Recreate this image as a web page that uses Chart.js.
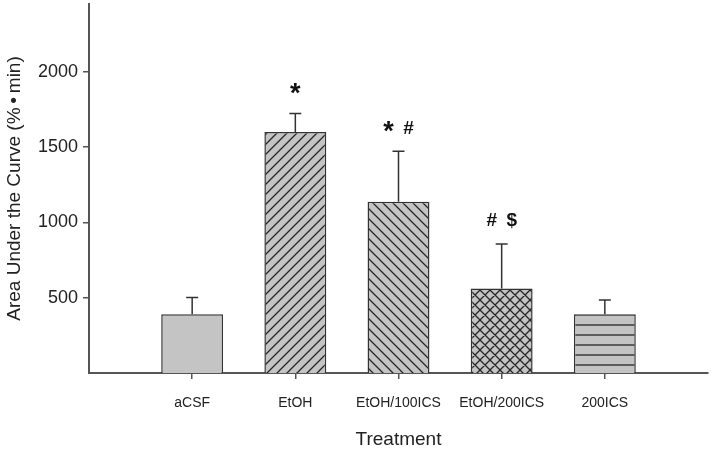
<!DOCTYPE html>
<html>
<head>
<meta charset="utf-8">
<script src="https://cdn.jsdelivr.net/npm/chart.js@4"></script>
<style>
  html, body { margin: 0; padding: 0; background: #fff; }
  #wrap { width: 714px; height: 453px; }
</style>
</head>
<body>
<div id="wrap"><canvas id="myChart"></canvas></div>
<script>
// values
const categories = ['aCSF', 'EtOH', 'EtOH/100ICS', 'EtOH/200ICS', '200ICS']
const means = [390, 1600, 1137, 561, 390]
const errors = [112, 123, 335, 296, 95]
const marks = ['', '*', '* #', '# $', '']
const yTicks = [500, 1000, 1500, 2000]

// empty slot at each end, like the original axis
const labels = [''].concat(categories).concat([''])
const values = [null].concat(means).concat([null])

const FONT = '"Liberation Sans", Arial, sans-serif'

function makePattern(kind) {
    const s = 10
    const c = document.createElement('canvas')
    c.width = s
    c.height = s
    const g = c.getContext('2d')
    g.fillStyle = '#c4c4c4'
    g.fillRect(0, 0, s, s)
    g.strokeStyle = '#262626'
    g.lineWidth = 1.3
    g.beginPath()
    if (kind === 'fwd' || kind === 'cross') {
        g.moveTo(-1, s + 1); g.lineTo(s + 1, -1)
        g.moveTo(-1, 1); g.lineTo(1, -1)
        g.moveTo(s - 1, s + 1); g.lineTo(s + 1, s - 1)
    }
    if (kind === 'back' || kind === 'cross') {
        g.moveTo(-1, -1); g.lineTo(s + 1, s + 1)
        g.moveTo(s - 1, -1); g.lineTo(s + 1, 1)
        g.moveTo(-1, s - 1); g.lineTo(1, s + 1)
    }
    if (kind === 'horiz') {
        g.moveTo(0, 5); g.lineTo(s, 5)
    }
    g.stroke()
    return g.createPattern(c, 'repeat')
}

const fills = [null, '#c4c4c4', makePattern('fwd'), makePattern('back'), makePattern('cross'), makePattern('horiz'), null]

const extras = {
    id: 'extras',
    afterDatasetsDraw(chart) {
        const ctx = chart.ctx
        const x = chart.scales.x
        const y = chart.scales.y
        ctx.save()
        for (let i = 0; i < categories.length; i++) {
            const px = x.getPixelForValue(i + 1)
            const yb = y.getPixelForValue(means[i])
            const yt = y.getPixelForValue(means[i] + errors[i])
            ctx.strokeStyle = '#333'
            ctx.lineWidth = 1.5
            ctx.beginPath()
            ctx.moveTo(px, yb)
            ctx.lineTo(px, yt)
            ctx.moveTo(px - 6, yt)
            ctx.lineTo(px + 6, yt)
            ctx.stroke()
            if (!marks[i]) continue
            const parts = marks[i].split(' ')
            const cy = yt - 27
            ctx.fillStyle = '#111'
            ctx.textAlign = 'center'
            parts.forEach((p, k) => {
                const cx = px + (k - (parts.length - 1) / 2) * 20
                if (p === '*') {
                    ctx.font = 'bold 27px ' + FONT
                    ctx.textBaseline = 'alphabetic'
                    ctx.fillText(p, cx, cy + 16)
                } else {
                    ctx.font = 'bold 19px ' + FONT
                    ctx.textBaseline = 'middle'
                    ctx.fillText(p, cx, cy + 4)
                }
            })
        }
        ctx.restore()
    }
}

const data = {
    labels,
    datasets: [{
        data: values,
        backgroundColor: fills,
        borderColor: '#333',
        borderWidth: 1.5,
        barPercentage: 0.6,
        categoryPercentage: 1
    }]
}

const config = {
    type: 'bar',
    data: data,
    plugins: [extras],
    options: {
        responsive: true,
        maintainAspectRatio: false,
        animation: false,
        layout: { padding: { top: 4, right: 6, left: 0, bottom: 0 } },
        plugins: { legend: { display: false }, tooltip: { enabled: false } },
        scales: {
            x: {
                offset: false,
                afterFit(s) {
                    s.height = 80
                    s.paddingLeft = 0
                    s.paddingRight = 0
                },
                border: { color: '#555', width: 2 },
                grid: {
                    offset: false,
                    drawOnChartArea: false,
                    tickLength: 6,
                    color: c => (c.index === 0 || c.index === labels.length - 1) ? 'rgba(0,0,0,0)' : '#555',
                    lineWidth: 1.5
                },
                ticks: {
                    color: '#222',
                    padding: 16,
                    maxRotation: 0,
                    autoSkip: false,
                    font: { family: FONT, size: 14 }
                },
                title: {
                    display: true,
                    text: 'Treatment',
                    color: '#222',
                    padding: { top: 0, bottom: 2 },
                    font: { family: FONT, size: 19 }
                }
            },
            y: {
                min: 0,
                max: 2450,
                afterFit(s) {
                    s.width = 89
                    s.paddingTop = 0
                    s.paddingBottom = 0
                },
                afterBuildTicks(s) { s.ticks = yTicks.map(v => ({ value: v })) },
                border: { color: '#555', width: 2 },
                grid: { drawOnChartArea: false, tickLength: 6, color: '#555', lineWidth: 1.5 },
                ticks: {
                    color: '#222',
                    padding: 5,
                    callback: v => String(v),
                    font: { family: FONT, size: 18 }
                },
                title: {
                    display: true,
                    text: 'Area Under the Curve (%\u2009\u2022\u2009min)',
                    color: '#222',
                    padding: { top: 3, bottom: 0 },
                    font: { family: FONT, size: 19 }
                }
            }
        }
    }
}

const myChart = new Chart(document.getElementById('myChart'), config)
</script>
</body>
</html>
